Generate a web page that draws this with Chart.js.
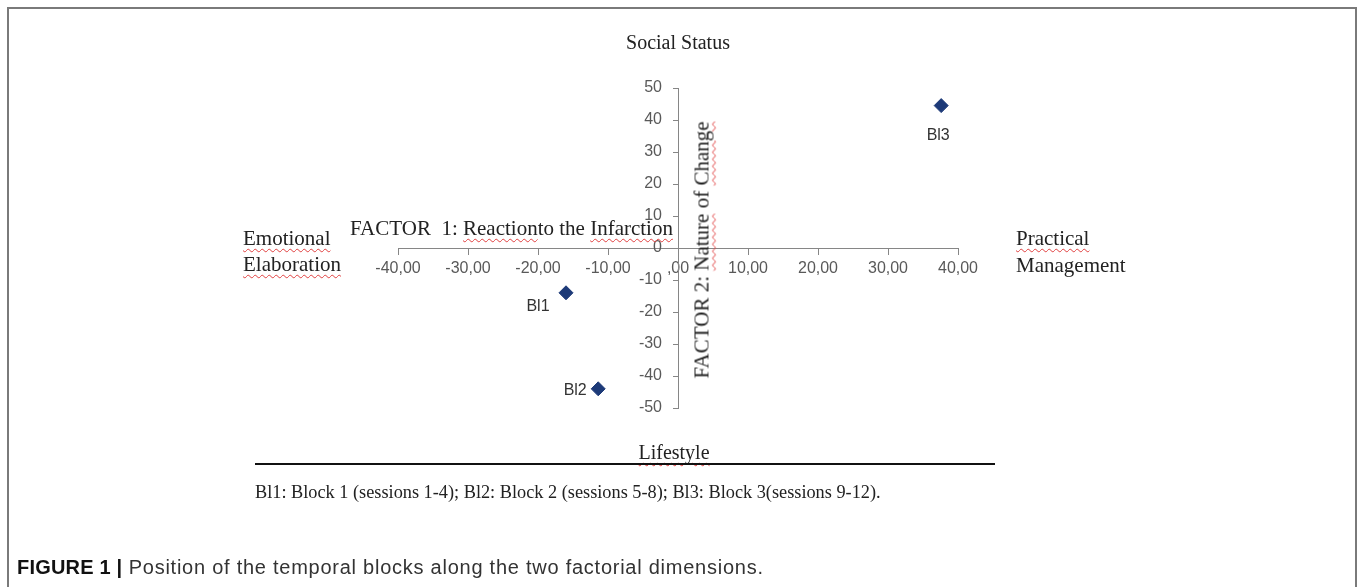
<!DOCTYPE html>
<html>
<head>
<meta charset="utf-8">
<script src="https://cdn.jsdelivr.net/npm/chart.js@4/dist/chart.umd.min.js"></script>
<style>
  body { margin: 0; background: #fff; }
  #wrap { position: relative; width: 1357px; height: 587px; overflow: hidden; }
  #frame { position: absolute; left: 7px; top: 7px; width: 1350px; height: 600px; border: 2px solid #7a7a7a; border-bottom: none; box-sizing: border-box; }
  canvas { position: absolute; left: 0; top: 0; }
  .serif { position: absolute; font-family: "Liberation Serif", "DejaVu Serif", serif; font-size: 20px; color: #222; white-space: nowrap; line-height: 1; }
  .big { font-size: 21px; }
  .sq { text-decoration: underline wavy #e04040; text-decoration-thickness: 1px; text-underline-offset: 3px; }
  #rule { position: absolute; left: 255px; top: 463px; width: 740px; height: 2px; background: #111; }
  #caption { position: absolute; left: 17px; top: 556px; font-family: "Liberation Sans", Arial, sans-serif; font-size: 20px; letter-spacing: 0.75px; color: #333; white-space: nowrap; }
  #caption b { color: #111; letter-spacing: 0.2px; }
</style>
</head>
<body>
<div id="wrap">
  <div id="frame"></div>
  <canvas id="chart" width="1357" height="587"></canvas>

  <div class="serif" style="left:678px; top:32px; transform:translateX(-50%);">Social Status</div>
  <div class="serif big" style="left:350px; top:218px;">FACTOR&nbsp; 1: <span class="sq">Reaction</span>to the <span class="sq">Infarction</span></div>
  <div class="serif big" style="left:702px; top:250px; transform:translate(-50%,-50%) rotate(-90deg);">FACTOR 2: <span class="sq">Nature</span> of <span class="sq">Change</span></div>
  <div class="serif big" style="left:243px; top:225px; line-height:26px;"><span class="sq">Emotional</span><br><span class="sq">Elaboration</span></div>
  <div class="serif big" style="left:1016px; top:225px; line-height:27px;"><span class="sq">Practical</span><br>Management</div>
  <div class="serif" style="left:674px; top:442px; transform:translateX(-50%);"><span class="sq">Lifestyle</span></div>
  <div id="rule"></div>
  <div class="serif" style="left:255px; top:483px; font-size:18.3px;">Bl1: Block 1 (sessions 1-4); Bl2: Block 2 (sessions 5-8); Bl3: Block 3(sessions 9-12).</div>
  <div id="caption"><b>FIGURE 1 |</b> Position of the temporal blocks along the two factorial dimensions.</div>
</div>

<script>
const blockNames = ['Bl1', 'Bl2', 'Bl3'];
const factor1 = [-16.0, -11.4, 37.6];
const factor2 = [-14.0, -44.0, 44.5];
const xTickValues = [-40, -30, -20, -10, 0, 10, 20, 30, 40];
const yTickValues = [-50, -40, -30, -20, -10, 0, 10, 20, 30, 40, 50];

// where each point's name sits relative to its marker
const labelOffsets = { Bl1: [-28, 12], Bl2: [-23, 0], Bl3: [-3, 28] };

const axisGray = '#868686';
const tickFont = { family: '"Liberation Sans", Arial, sans-serif', size: 16 };

const pointLabels = {
  id: 'pointLabels',
  afterDatasetsDraw(chart) {
    const ctx = chart.ctx;
    const meta = chart.getDatasetMeta(0);
    ctx.save();
    ctx.font = '16px "Liberation Sans", Arial, sans-serif';
    ctx.fillStyle = '#333';
    ctx.textAlign = 'center';
    ctx.textBaseline = 'middle';
    meta.data.forEach((pt, i) => {
      const off = labelOffsets[blockNames[i]];
      ctx.fillText(blockNames[i], pt.x + off[0], pt.y + off[1] + 2);
    });
    ctx.restore();
  }
};

new Chart(document.getElementById('chart'), {
  type: 'scatter',
  data: {
    datasets: [{
      data: factor1.map((x, i) => ({ x: x, y: factor2[i] })),
      pointStyle: 'rectRot',
      pointRadius: 7,
      pointHoverRadius: 7,
      backgroundColor: '#1d3a78',
      borderColor: '#1d3a78',
      borderWidth: 1
    }]
  },
  options: {
    responsive: false,
    animation: false,
    events: [],
    layout: { padding: { left: 398, right: 399, top: 88, bottom: 179 } },
    plugins: { legend: { display: false }, tooltip: { enabled: false } },
    scales: {
      x: {
        type: 'linear',
        position: { y: 0 },
        min: -40,
        max: 40,
        afterBuildTicks: (scale) => { scale.ticks = xTickValues.map(v => ({ value: v })); },
        ticks: {
          autoSkip: false,
          maxRotation: 0,
          padding: 5,
          color: '#595959',
          font: tickFont,
          callback: (v) => v === 0 ? ',00' : v.toFixed(2).replace('.', ',')
        },
        grid: { drawOnChartArea: false, drawTicks: true, tickLength: 6, color: axisGray },
        border: { color: axisGray, width: 1 }
      },
      y: {
        type: 'linear',
        position: { x: 0 },
        min: -50,
        max: 50,
        afterBuildTicks: (scale) => { scale.ticks = yTickValues.map(v => ({ value: v })); },
        ticks: {
          autoSkip: false,
          color: '#595959',
          font: tickFont,
          // centred y axis puts labels flush on the line, so pad them with en spaces
          callback: (v) => v + '\u2002\u2002'
        },
        grid: { drawOnChartArea: false, drawTicks: true, tickLength: 5, color: axisGray },
        border: { color: axisGray, width: 1 }
      }
    }
  },
  plugins: [pointLabels]
});
</script>
</body>
</html>
